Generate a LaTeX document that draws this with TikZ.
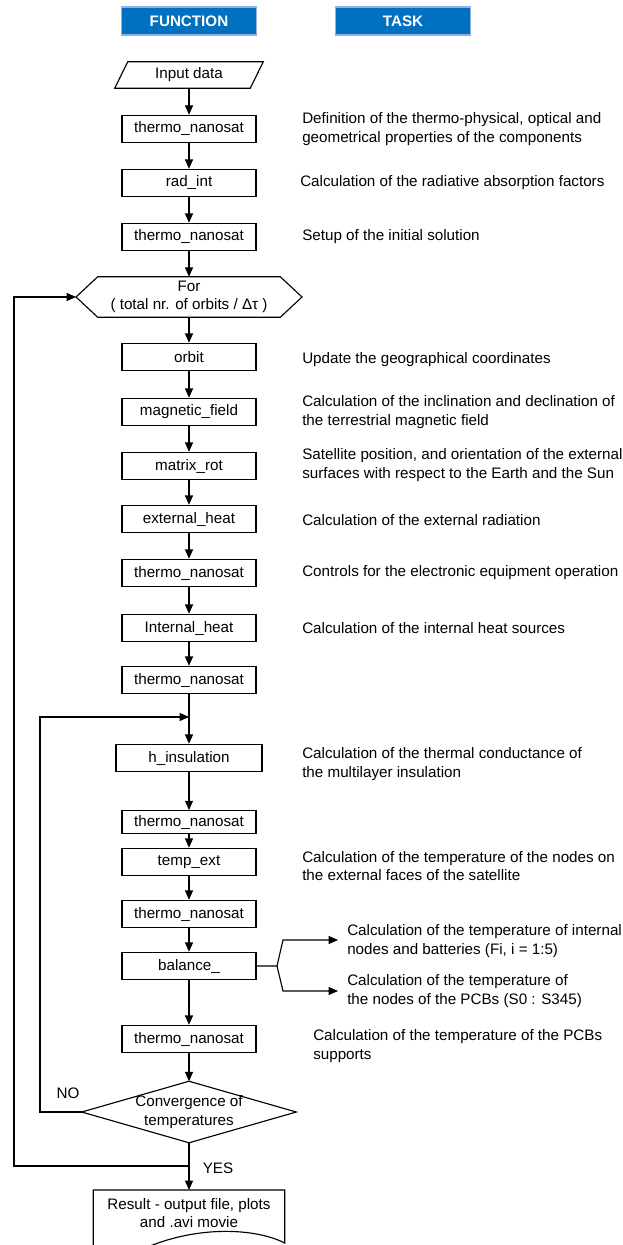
\documentclass[tikz,border=0pt]{standalone}
\usepackage{fontspec}
\setmainfont{Liberation Sans}
\usetikzlibrary{arrows.meta}
\definecolor{headblue}{RGB}{0,112,192}
\definecolor{headrim}{RGB}{145,178,222}

\begin{document}
\begin{tikzpicture}
[x=0.75pt, y=-0.75pt, >={Triangle[length=7pt,width=6pt]}, every node/.style={font=\fontsize{11.4pt}{13.8pt}\selectfont}, flow line/.style={line width=0.85pt}, block/.style={draw, line width=0.85pt, minimum width=100.5pt, minimum height=20.5pt, inner ysep=1pt}, head/.style={draw=headrim, line width=1.2pt, fill=headblue, text=white, font=\fontsize{11.4pt}{13.8pt}\selectfont\bfseries, minimum width=101.25pt, minimum height=21pt}, task/.style={anchor=west, align=left, inner sep=0pt}]
    \useasboundingbox (0,0) rectangle (623,1245);
    \node[head] (fn) at (189,21) {FUNCTION};
    \node[head] (tk) at (403,21) {TASK};
    \node[minimum width=101.25pt, minimum height=19.5pt, inner sep=0pt] (input) at (189,75) {Input data};
    \draw[flow line] ([xshift=4.9pt]input.north west) -- ([xshift=4.9pt]input.north east) -- ([xshift=-4.9pt]input.south east) -- ([xshift=-4.9pt]input.south west) -- cycle;
    \node[block] (t1) at (189,129) {thermo\_nanosat};
    \node[block] (radint) at (189,183) {rad\_int};
    \node[block] (t2) at (189,237) {thermo\_nanosat};
    \node[minimum width=136.5pt, minimum height=30pt, align=center, inner sep=0pt] (for) at (189,297) {For\\( total nr. of orbits / Δτ )};
    \coordinate (forL) at (76,297);
    \coordinate (forR) at (302,297);
    \draw[flow line] (forL) -- (for.north west) -- (for.north east) -- (forR) -- (for.south east) -- (for.south west) -- cycle;
    \node[block] (orbit) at (189,357) {orbit};
    \node[block] (magf) at (189,412) {magnetic\_field};
    \node[block] (mrot) at (189,466) {matrix\_rot};
    \node[block] (exth) at (189,519) {external\_heat};
    \node[block] (t3) at (189,573) {thermo\_nanosat};
    \node[block] (inth) at (189,628) {Internal\_heat};
    \node[block] (t4) at (189,680) {thermo\_nanosat};
    \coordinate (join1) at (189,717);
    \node[block, minimum width=109.5pt] (hins) at (189,758) {h\_insulation};
    \node[block, minimum height=17pt] (t5) at (189,822) {thermo\_nanosat};
    \node[block] (tempx) at (189,862) {temp\_ext};
    \node[block] (t6) at (189,914) {thermo\_nanosat};
    \node[block] (bal) at (189,966) {balance\_};
    \node[block] (t7) at (189,1039) {thermo\_nanosat};
    \node[minimum width=160.5pt, minimum height=45.75pt, align=center, inner sep=0pt] (conv) at (189,1112) {Convergence of\\temperatures};
    \draw[flow line] (conv.north) -- (conv.east) -- (conv.south) -- (conv.west) -- cycle;
    \coordinate (join2) at (189,1166);
    \node[minimum width=143.25pt, minimum height=34.5pt, align=center, inner sep=0pt, anchor=north] (res) at (189,1190) {Result - output file, plots\\and .avi movie};
    \draw[flow line] (res.north west) -- (res.north east) -- ([yshift=-39.75pt]res.north east) .. controls (255,1228) and (200,1226) .. (150,1246) .. controls (125,1256) and (110,1260) .. ([yshift=-51pt]res.north west) -- cycle;
    \foreach \a/\b in {input/t1, t1/radint, radint/t2, t2/for, for/orbit, orbit/magf, magf/mrot, mrot/exth, exth/t3, t3/inth, inth/t4, t4/hins, hins/t5, t5/tempx, tempx/t6, t6/bal, bal/t7, t7/conv, conv/res}
        \draw[flow line, ->] (\a) -- (\b);
    \coordinate (noleft) at (40,717);
    \draw[flow line, ->] (conv.west) -| (noleft) -- (join1);
    \coordinate (outleft) at (14,297);
    \draw[flow line, ->] (join2) -| (outleft) -- (forL);
    \node (no) at (68,1093) {NO};
    \node (yes) at (218,1168) {YES};
    \node[task] (tdef) at (302,129) {Definition of the thermo-physical, optical and\\geometrical properties of the components};
    \node[task] (trad) at (300,183) {Calculation of the radiative absorption factors};
    \node[task] (tset) at (302,237) {Setup of the initial solution};
    \node[task] (tupd) at (302,360) {Update the geographical coordinates};
    \node[task] (tmag) at (302,412) {Calculation of the inclination and declination of\\the terrestrial magnetic field};
    \node[task] (tsat) at (302,465) {Satellite position, and orientation of the external\\surfaces with respect to the Earth and the Sun};
    \node[task] (text) at (302,520) {Calculation of the external radiation};
    \node[task] (tctl) at (302,573) {Controls for the electronic equipment operation};
    \node[task] (tinh) at (302,628) {Calculation of the internal heat sources};
    \node[task] (tins) at (302,764) {Calculation of the thermal conductance of\\the multilayer insulation};
    \node[task] (tnod) at (302,866) {Calculation of the temperature of the nodes on\\the external faces of the satellite};
    \node[task, inner xsep=6.75pt] (tint) at (338,941) {Calculation of the temperature of internal\\nodes and batteries (Fi, i = 1:5)};
    \node[task, inner xsep=6.75pt] (tpcb) at (338,991) {Calculation of the temperature of\\the nodes of the PCBs (S0 : S345)};
    \node[task] (tsup) at (313,1046) {Calculation of the temperature of the PCBs\\supports};
    \coordinate (brj) at (277,966);
    \coordinate (brup) at (283,940);
    \coordinate (brdn) at (283,991);
    \draw[flow line, ->] (bal.east) -- (brj) -- (brup) -- (brup -| tint.west);
    \draw[flow line, ->] (brj) -- (brdn) -- (brdn -| tpcb.west);
\end{tikzpicture}
\end{document}
